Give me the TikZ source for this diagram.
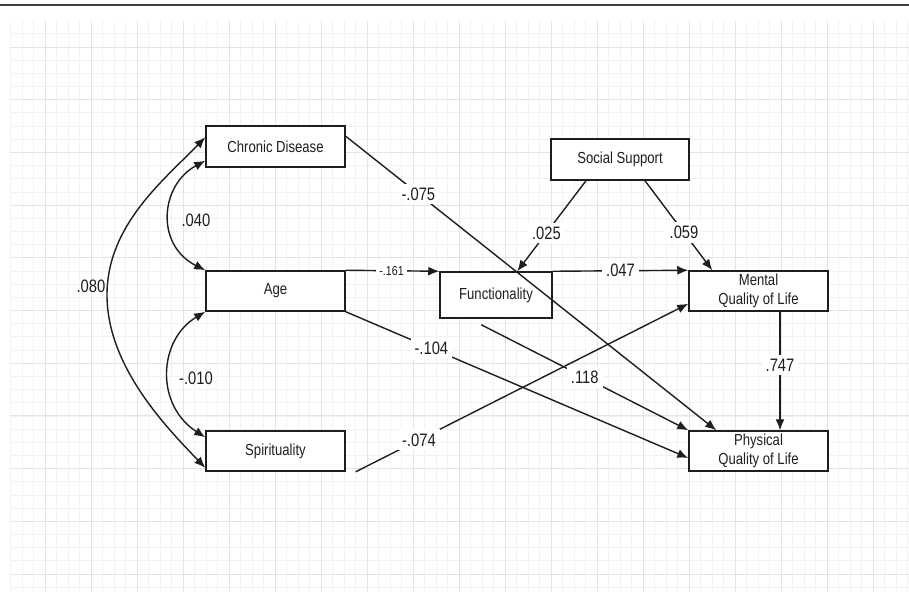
\documentclass[tikz,border=0pt]{standalone}
\usepackage{fontspec}
\setmainfont{Liberation Sans}[FakeStretch=0.82]
\usetikzlibrary{arrows.meta,calc}
\definecolor{gridminor}{HTML}{F2F2F2}
\definecolor{gridmajor}{HTML}{E4E4E4}
\definecolor{ink}{HTML}{1E1E1E}
\tikzset{
  box/.style={draw=ink, line width=1.5pt, fill=white, minimum width=139pt, minimum height=40pt,
    inner sep=0pt, align=center, font=\fontsize{16}{18.5}\selectfont, text=ink},
  lab/.style={fill=white, inner sep=4pt, font=\fontsize{18}{20}\selectfont, text=ink},
  plainlab/.style={inner sep=1pt, font=\fontsize{18}{20}\selectfont, text=ink},
  conn/.style={draw=ink, line width=1.4pt},
  tip/.style={-{Latex[length=11pt,width=9pt]}},
  both/.style={{Latex[length=11pt,width=9pt]}-{Latex[length=11pt,width=9pt]}},
}
\begin{document}
\begin{tikzpicture}[x=1pt,y=-1pt]
\useasboundingbox (0,0) rectangle (909,592);
\fill[white] (0,0) rectangle (909,592);
% grid
\begin{scope}
\clip (10,21) rectangle (909,592);
\foreach \i in {0,...,78} \draw[gridminor, line width=0.8pt] ({10.5+11.5*\i},21) -- ({10.5+11.5*\i},592);
\foreach \i in {0,...,43} \draw[gridminor, line width=0.8pt] (10,{20.65+13.175*\i}) -- (909,{20.65+13.175*\i});
\foreach \i in {0,...,18} \draw[gridmajor, line width=1pt] ({45+46*\i},21) -- ({45+46*\i},592);
\foreach \i in {0,...,10} \draw[gridmajor, line width=1pt] (10,{47+52.7*\i}) -- (909,{47+52.7*\i});
\end{scope}
\draw[ink!85, line width=2.5pt] (0,5) -- (909,5);

% boxes
\node[box, minimum height=41pt] (cd) at (275.5,146.5) {Chronic Disease};
\node[box] (age) at (275.5,291) {Age};
\node[box] (sp) at (275.5,451) {Spirituality};
\node[box, minimum width=138pt, minimum height=41pt] (ss) at (620,159.5) {Social Support};
\node[box, minimum width=112pt, minimum height=46pt] (fn) at (496,295) {Functionality};
\node[box] (mq) at (758.5,291) {Mental\\Quality of Life};
\node[box] (pq) at (758.5,451) {Physical\\Quality of Life};

% connector end points
\coordinate (cdR) at ($(cd.north east)+(0,11)$);
\coordinate (pqT) at ($(pq.north west)+(28,0)$);
\coordinate (ssL) at ($(ss.south)+(-34,0)$);
\coordinate (fnT) at ($(fn.north west)+(78,0)$);
\coordinate (ssR) at ($(ss.south)+(25,0)$);
\coordinate (mqT) at ($(mq.north west)+(24,0)$);
\coordinate (pqL) at ($(pq.west)+(0,7)$);
\coordinate (fnB) at ($(fn.south west)+(42,6)$);
\coordinate (spR) at ($(sp.south east)+(10,0)$);
\coordinate (mqL) at ($(mq.south west)+(0,-8)$);
\coordinate (mqB) at ($(mq.south)+(21.5,0)$);
\coordinate (pqN) at ($(pq.north)+(21.5,0)$);
\coordinate (cd1) at ($(cd.south west)+(0,-7)$);
\coordinate (sp1) at ($(sp.north west)+(0,7)$);
\coordinate (cd2) at ($(cd.north west)+(0,12)$);
\coordinate (sp2) at ($(sp.south west)+(0,-4)$);
\coordinate (bulge) at (107,295);

% directed paths
\draw[conn, tip] (cdR) -- node[lab, pos=0.196] (l075) {-.075} (pqT);
\draw[conn, tip] (age.north east) -- node[lab, pos=0.49, inner sep=3pt, font=\fontsize{13}{15}\selectfont] (l161) {-.161} (fn.north west);
\draw[conn, tip] (fn.north east) -- node[lab, pos=0.5] (l047) {.047} (mq.north west);
\draw[conn, tip] (ssL) -- node[lab, pos=0.576] (l025) {.025} (fnT);
\draw[conn, tip] (ssR) -- node[lab, pos=0.58] (l059) {.059} (mqT);
\draw[conn, tip] (age.south east) -- node[lab, pos=0.25] (l104) {-.104} (pqL);
\draw[conn, tip] (fnB) -- node[lab, pos=0.5] (l118) {.118} (pq.north west);
\draw[conn, tip] (spR) -- node[lab, pos=0.19] (l074) {-.074} (mqL);
\draw[conn, tip] (mqB) -- node[lab, pos=0.45] (l747) {.747} (pqN);

% correlations
\draw[conn, both] (cd1) .. controls (160,185) and (155,245) .. (age.north west);
\node[plainlab] (l040) at (196,220) {.040};
\draw[conn, both] (age.south west) .. controls (158,340) and (155,405) .. (sp1);
\node[plainlab] (l010) at (196,378) {-.010};
\draw[conn, both] (cd2) .. controls (164,180) and (107,225) .. (bulge) .. controls (107,365) and (164,425) .. (sp2);
\node[plainlab] (l080) at (91,286) {.080};
\end{tikzpicture}
\end{document}
